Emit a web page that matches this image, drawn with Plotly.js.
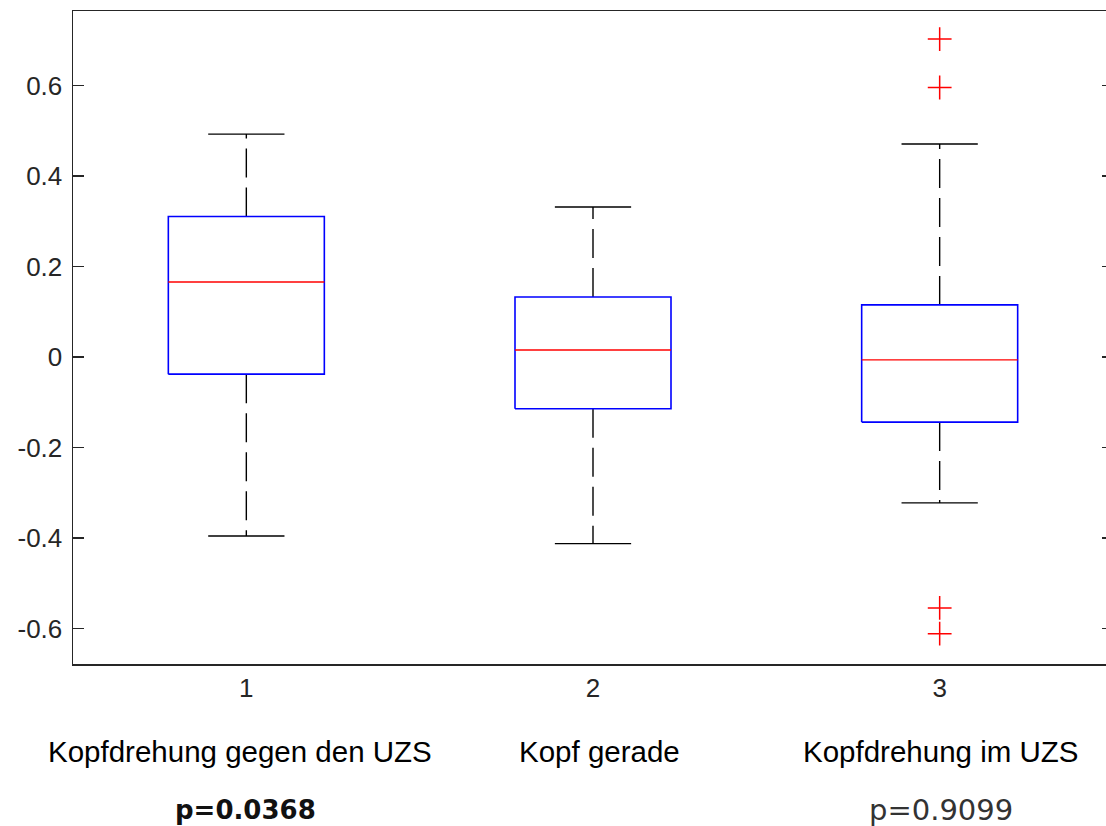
<!DOCTYPE html>
<html>
<head>
<meta charset="utf-8">
<script src="https://cdn.plot.ly/plotly-3.0.1.min.js"></script>
<style>
html, body { margin: 0; padding: 0; overflow: hidden; background: #fff; }
#chart { width: 1120px; height: 826px; }
</style>
</head>
<body>
<div id="chart"></div>
<script>
// ---- data ----
const positions   = [1, 2, 3];
const groupNames  = ["Kopfdrehung gegen den UZS", "Kopf gerade", "Kopfdrehung im UZS"];
const pValues     = ["p=0.0368", "", "p=0.9099"];
const pBold       = [true, false, false];
const upperWhisk  = [0.493, 0.332, 0.471];
const q3Values    = [0.311, 0.133, 0.1155];
const medians     = [0.166, 0.016, -0.006];
const q1Values    = [-0.0375, -0.114, -0.1435];
const lowerWhisk  = [-0.395, -0.412, -0.322];
const outlierX    = [3, 3, 3, 3];
const outlierY    = [0.703, 0.596, -0.554, -0.611];
const yTickVals   = [-0.6, -0.4, -0.2, 0, 0.2, 0.4, 0.6];
const yTickText   = ["-0.6", "-0.4", "-0.2", "0", "0.2", "0.4", "0.6"];
const xTickText   = ["1", "2", "3"];

// ---- styling ----
const boxHalf = 0.225;
const capHalf = 0.11;
const traces = [];

positions.forEach((p, i) => {
  // whiskers (dashed)
  traces.push({
    type: 'scatter', mode: 'lines', hoverinfo: 'skip', showlegend: false,
    x: [p, p, null, p, p],
    y: [q3Values[i], upperWhisk[i], null, q1Values[i], lowerWhisk[i]],
    line: { color: '#000000', width: 1.4, dash: '29px,10px' }
  });
  // caps
  traces.push({
    type: 'scatter', mode: 'lines', hoverinfo: 'skip', showlegend: false,
    x: [p - capHalf, p + capHalf, null, p - capHalf, p + capHalf],
    y: [upperWhisk[i], upperWhisk[i], null, lowerWhisk[i], lowerWhisk[i]],
    line: { color: '#000000', width: 1.4 }
  });
  // box
  traces.push({
    type: 'scatter', mode: 'lines', hoverinfo: 'skip', showlegend: false,
    x: [p - boxHalf, p + boxHalf, p + boxHalf, p - boxHalf, p - boxHalf],
    y: [q1Values[i], q1Values[i], q3Values[i], q3Values[i], q1Values[i]],
    line: { color: '#0000ff', width: 1.6 }
  });
  // median
  traces.push({
    type: 'scatter', mode: 'lines', hoverinfo: 'skip', showlegend: false,
    x: [p - boxHalf, p + boxHalf],
    y: [medians[i], medians[i]],
    line: { color: '#ff0000', width: 1.4 }
  });
});

// outliers
traces.push({
  type: 'scatter', mode: 'markers', hoverinfo: 'skip', showlegend: false,
  x: outlierX, y: outlierY,
  marker: { symbol: 'cross-thin-open', size: 17, color: '#ff0000', line: { color: '#ff0000', width: 1.5 } }
});

// bottom annotations
const labelX = [0.1606, 0.5063, 0.8346];
const pX     = [0.1663, 0.5, 0.8346];
const annotations = [];
groupNames.forEach((g, i) => {
  annotations.push({
    xref: 'paper', yref: 'paper', x: labelX[i], y: -0.1343,
    xanchor: 'center', yanchor: 'middle', showarrow: false,
    text: g, font: { family: 'Liberation Sans, Arial, sans-serif', size: 29.5, color: '#000000' }
  });
  if (pValues[i]) {
    annotations.push({
      xref: 'paper', yref: 'paper', x: pX[i], y: -0.2236,
      xanchor: 'center', yanchor: 'middle', showarrow: false,
      text: pBold[i] ? '<b>' + pValues[i] + '</b>' : pValues[i],
      font: { family: 'DejaVu Sans, Verdana, sans-serif', size: pBold[i] ? 26 : 29, color: pBold[i] ? '#111111' : '#333333' }
    });
  }
});

const layout = {
  width: 1120, height: 826,
  margin: { l: 73, r: 7, t: 11, b: 162, pad: 0 },
  paper_bgcolor: '#ffffff', plot_bgcolor: '#ffffff',
  showlegend: false,
  xaxis: {
    range: [0.5, 3.5], showgrid: false, zeroline: false,
    tickmode: 'array', tickvals: positions, ticktext: xTickText, ticks: '',
    showline: true, mirror: true, linecolor: '#262626', linewidth: 1.5,
    tickfont: { family: 'Liberation Sans, Arial, sans-serif', size: 26, color: '#262626' }
  },
  yaxis: {
    range: [-0.678, 0.765], showgrid: false, zeroline: false,
    tickmode: 'array', tickvals: yTickVals, ticktext: yTickText,
    ticks: 'inside', ticklen: 11, tickwidth: 1.5, tickcolor: '#262626',
    showline: true, mirror: 'ticks', linecolor: '#262626', linewidth: 1.5,
    ticklabelstandoff: 4,
    tickfont: { family: 'Liberation Sans, Arial, sans-serif', size: 26, color: '#262626' }
  },
  annotations: annotations
};

Plotly.newPlot('chart', traces, layout, { staticPlot: true, displayModeBar: false });
</script>
</body>
</html>
